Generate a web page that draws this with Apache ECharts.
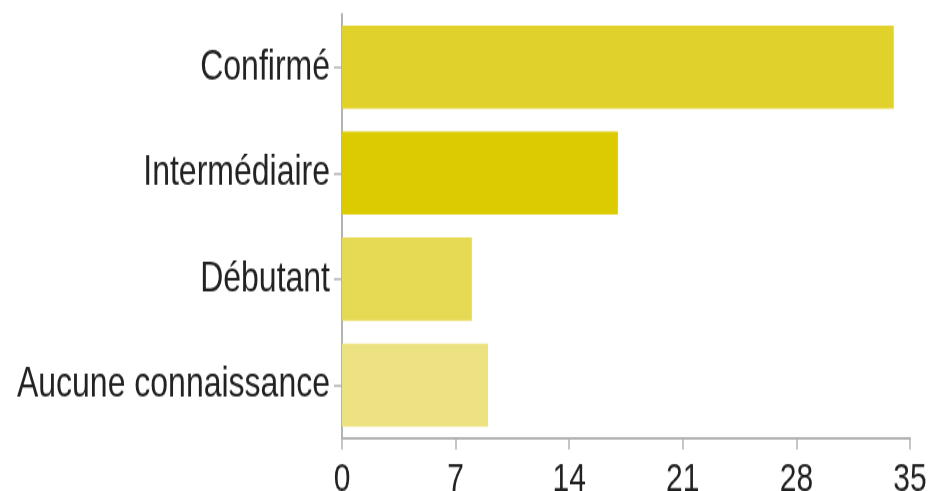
<!DOCTYPE html>
<html><head><meta charset="utf-8">
<script src="https://cdn.jsdelivr.net/npm/echarts@6/dist/echarts.min.js"></script>
<style>
html,body{margin:0;padding:0;background:#fff;overflow:hidden}
#wrap{width:931px;height:491px;overflow:hidden}
#c{width:931px;height:364px;transform:scaleY(1.3489);transform-origin:0 0}
</style>
</head><body><div id="wrap"><div id="c"></div></div>
<script>
const categories = ["Confirmé", "Intermédiaire", "Débutant", "Aucune connaissance"];
const values = [34, 17, 8, 9];
const barColors = ["#e0d22a", "#dccb00", "#e6da55", "#ede281"];
const xTicks = [0, 7, 14, 21, 28, 35];

const FONT = "'Liberation Sans', Arial, sans-serif";
const chart = echarts.init(document.getElementById('c'), null, {renderer: 'canvas'});
chart.setOption({
  animation: false,
  grid: {left: 342, right: 21, top: 10.5, bottom: 39.3, containLabel: false, outerBoundsMode: 'none'},
  xAxis: {
    type: 'value', min: xTicks[0], max: xTicks[xTicks.length - 1], interval: 7,
    axisLine: {show: true, lineStyle: {color: '#b3b3b3', width: 2.2}},
    axisTick: {show: true, length: 8.5, lineStyle: {color: '#b3b3b3', width: 1.5}},
    splitLine: {show: false},
    axisLabel: {color: '#222', fontFamily: FONT, fontSize: 30, margin: 16}
  },
  yAxis: {
    type: 'category', inverse: true, data: categories,
    axisLine: {show: true, lineStyle: {color: '#b3b3b3', width: 2}},
    axisTick: {show: true, alignWithLabel: true, length: 8, lineStyle: {color: '#b3b3b3', width: 1.5}},
    axisLabel: {color: '#222', fontFamily: FONT, fontSize: 32, margin: 12}
  },
  series: [{
    type: 'bar', barCategoryGap: '21.6%',
    data: values.map((v, i) => ({value: v, itemStyle: {color: barColors[i]}}))
  }]
});
</script></body></html>
